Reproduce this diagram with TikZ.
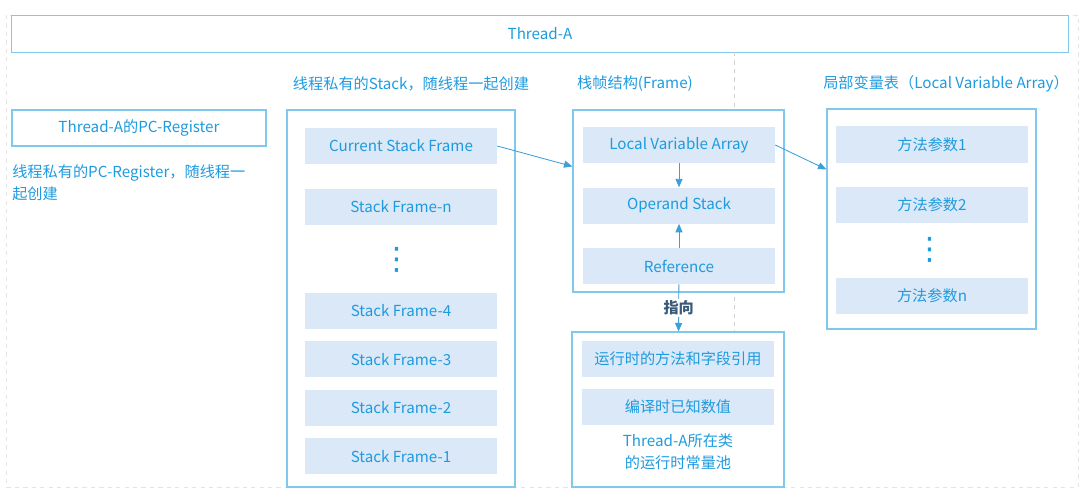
\documentclass[tikz,border=0pt]{standalone}
\usepackage{fontspec}
\setmainfont{Noto Sans CJK SC}
\newfontfamily\symfont{DejaVu Sans}
\usetikzlibrary{arrows.meta, positioning, calc}
\definecolor{edgeblue}{HTML}{80C8EE}
\definecolor{txtblue}{HTML}{1E9BDF}
\definecolor{itemfill}{HTML}{DAE8F7}
\definecolor{arrblue}{HTML}{3AA0DA}
\definecolor{darklbl}{HTML}{3A5A78}
\tikzset{
  every node/.style={font=\fontsize{10.8pt}{15.6pt}\selectfont, text=txtblue},
  frame/.style={rectangle, draw=edgeblue, fill=white, line width=0.8pt, inner sep=0pt},
  item/.style={rectangle, fill=itemfill, minimum width=4.8cm, minimum height=0.9cm,
               inner sep=0pt, align=center},
  title/.style={inner sep=0pt, align=center},
  dots/.style={inner sep=0pt, text=txtblue, font=\symfont\fontsize{22pt}{22pt}\selectfont},
  arr/.style={-{Triangle[length=6pt, width=5pt]}, draw=arrblue, line width=0.6pt},
  guide/.style={draw=black!18, dashed, line width=0.5pt},
}

\begin{document}
\begin{tikzpicture}[x=0.025cm, y=-0.025cm]
  \useasboundingbox (0,0) rectangle (1080,501);
  \draw[black!10, dashed, line width=0.5pt] (6,15) rectangle (1078,487);

  % thread and its register
  \node[frame, minimum width=26.4cm, minimum height=0.925cm] (thread) at (540,34) {Thread-A};
  \node[frame, minimum width=6.35cm, minimum height=0.9cm] (pcreg) at (139,128) {Thread-A的PC-Register};
  \node[title, anchor=north west, align=left] (pcnote) at (12,164)
    {线程私有的PC-Register，随线程一\\起创建};

  % frame and pool boxes (guide line goes behind them)
  \coordinate (gtop) at (734,52);
  \coordinate (gbot) at (734,332);
  \draw[guide] (gtop) -- (gbot);

  % stack
  \node[title] (stacktitle) at (411,84) {线程私有的Stack，随线程一起创建};
  \node[frame, minimum width=5.7cm, minimum height=9.425cm] (stack) at (401,298.5) {};
  \node[item] (cur) at (401,146) {Current Stack Frame};
  \node[item, below=0.6cm of cur] (sfn) {Stack Frame-n};
  \node[dots] (sdots) at (397,260) {⋮};
  \node[item] (sf4) at (401,310.5) {Stack Frame-4};
  \node[item, below=0.3cm of sf4] (sf3) {Stack Frame-3};
  \node[item, below=0.3cm of sf3] (sf2) {Stack Frame-2};
  \node[item, below=0.3cm of sf2] (sf1) {Stack Frame-1};

  % frame
  \node[title] (frametitle) at (635,84) {栈帧结构(Frame)};
  \node[frame, minimum width=5.275cm, minimum height=4.55cm] (frm) at (678.5,201) {};
  \node[item] (lva) at (679,145) {Local Variable Array};
  \node[item, below=0.6cm of lva] (opst) {Operand Stack};
  \node[item, below=0.6cm of opst] (ref) {Reference};

  % runtime constant pool
  \node[frame, minimum width=5.3cm, minimum height=3.875cm] (pool) at (678,409.5) {};
  \node[item] (mref) at (678,358.5) {运行时的方法和字段引用};
  \node[item, below=0.3cm of mref] (cval) {编译时已知数值};
  \node[title] (pooltxt) at (678,452) {Thread-A所在类\\的运行时常量池};

  % local variable array
  \node[title] (lvatitle) at (946,84) {局部变量表（Local Variable Array）};
  \node[frame, minimum width=5.225cm, minimum height=5.5cm] (lvabox) at (931.5,219) {};
  \node[item] (p1) at (932,144.5) {方法参数1};
  \node[item, below=0.6cm of p1] (p2) {方法参数2};
  \node[dots] (pdots) at (930,250) {⋮};
  \node[item] (pn) at (932,295.5) {方法参数n};

  % connectors
  \draw[arr] (cur.east) -- ([yshift=-1.425cm]frm.north west);
  \draw[arr] (lva.east) -- ([yshift=-1.525cm]lvabox.north west);
  \draw[arr] (lva) -- (opst);
  \draw[arr] (ref) -- (opst);
  \draw[arr] (ref) -- (pool)
    node[midway, fill=white, inner sep=1pt, text=darklbl, font=\fontsize{10.8pt}{13pt}\selectfont\bfseries] (pointto) {指向};
\end{tikzpicture}
\end{document}
